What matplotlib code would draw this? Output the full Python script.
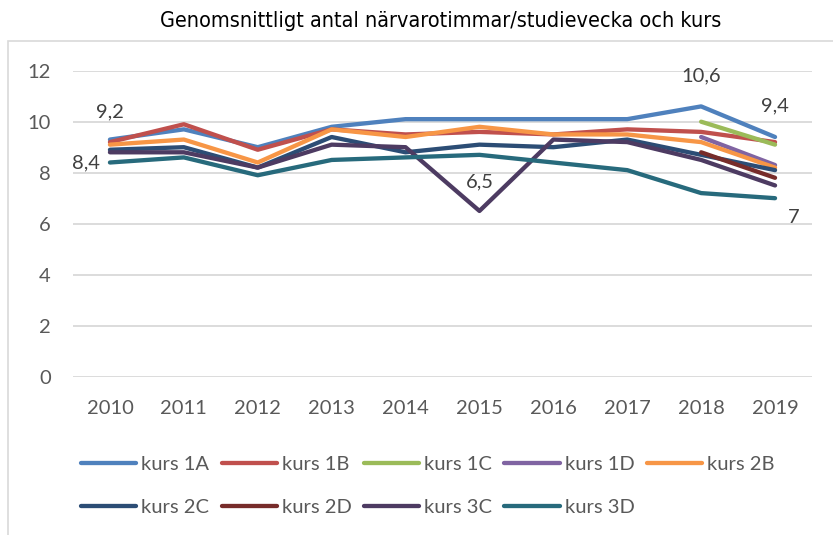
import numpy as np
import matplotlib.pyplot as plt
from matplotlib.patches import Rectangle

# data
years = [2010, 2011, 2012, 2013, 2014, 2015, 2016, 2017, 2018, 2019]
nan = np.nan
kurs_1a = [9.3, 9.7, 9.0, 9.8, 10.1, 10.1, 10.1, 10.1, 10.6, 9.4]
kurs_1b = [9.2, 9.9, 8.9, 9.7, 9.5, 9.6, 9.5, 9.7, 9.6, 9.2]
kurs_1c = [nan, nan, nan, nan, nan, nan, nan, nan, 10.0, 9.1]
kurs_1d = [nan, nan, nan, nan, nan, nan, nan, nan, 9.4, 8.3]
kurs_2b = [9.1, 9.3, 8.4, 9.7, 9.4, 9.8, 9.5, 9.5, 9.2, 8.2]
kurs_2c = [8.9, 9.0, 8.2, 9.4, 8.8, 9.1, 9.0, 9.3, 8.7, 8.1]
kurs_2d = [nan, nan, nan, nan, nan, nan, nan, nan, 8.8, 7.8]
kurs_3c = [8.8, 8.8, 8.2, 9.1, 9.0, 6.5, 9.3, 9.2, 8.5, 7.5]
kurs_3d = [8.4, 8.6, 7.9, 8.5, 8.6, 8.7, 8.4, 8.1, 7.2, 7.0]

names = ["kurs 1A", "kurs 1B", "kurs 1C", "kurs 1D", "kurs 2B",
         "kurs 2C", "kurs 2D", "kurs 3C", "kurs 3D"]
series = [kurs_1a, kurs_1b, kurs_1c, kurs_1d, kurs_2b,
          kurs_2c, kurs_2d, kurs_3c, kurs_3d]
colors = ["#4F81BD", "#C0504D", "#9BBB59", "#8064A2", "#F79646",
          "#2C4D75", "#772C2A", "#4D3B62", "#276A7C"]

# (series index, year index, text, offset in pixels)
labels = [(1, 0, "9,2", (0, 30)),
          (8, 0, "8,4", (-24, 0)),
          (7, 5, "6,5", (0, 29)),
          (0, 8, "10,6", (0, 31)),
          (0, 9, "9,4", (0, 31)),
          (8, 9, "7", (19, -19))]

plt.rcParams['font.family'] = ['Lato', 'DejaVu Sans']
txt = "#595959"
fs = 14.5

fig = plt.figure(figsize=(8.33, 5.35), dpi=100)
fig.patches.append(Rectangle((8 / 833, -0.1), 1.2, 1.1 - 41 / 535,
                             transform=fig.transFigure, fill=False,
                             edgecolor="#D9D9D9", linewidth=1.2))
fig.text(441 / 833, 1 - 21 / 535, "Genomsnittligt antal närvarotimmar/studievecka och kurs",
         ha="center", va="center", fontsize=15.5, color="#000000",
         family=['DejaVu Sans'], fontstretch='condensed')

ax = fig.add_axes([73 / 833, 1 - 376.7 / 535, 739 / 833, 306 / 535])
x = np.arange(len(years))
handles = []
for vals, name, c in zip(series, names, colors):
    h, = ax.plot(x, vals, color=c, lw=3.1, solid_capstyle="round",
                 solid_joinstyle="round", label=name)
    handles.append(h)

for si, yi, t, off in labels:
    ax.annotate(t, (x[yi], series[si][yi]), xytext=off, textcoords="offset pixels",
                ha="center", va="center", fontsize=fs, color="#404040")

ax.set_xlim(-0.5, len(years) - 0.5)
ax.set_ylim(0, 12)
ax.set_yticks(range(0, 13, 2))
ax.set_xticks(x)
ax.set_xticklabels([str(y) for y in years])
ax.yaxis.grid(True, color="#D9D9D9", lw=1.3)
ax.set_axisbelow(True)
for s in ax.spines.values():
    s.set_visible(False)
ax.tick_params(axis="both", length=0, labelsize=fs, labelcolor=txt)
ax.tick_params(axis="x", pad=17)
ax.tick_params(axis="y", pad=16)

# legend: two rows, filled column by column
order = [0, 5, 1, 6, 2, 7, 3, 8, 4]
leg = fig.legend([handles[i] for i in order], [names[i] for i in order],
                 ncol=5, loc="upper left", bbox_to_anchor=(71 / 833, 1 - 446 / 535),
                 frameon=False, fontsize=fs, handlelength=2.75, handletextpad=0.25,
                 columnspacing=0.6, labelspacing=1.27, borderpad=0)
for t in leg.get_texts():
    t.set_color(txt)

fig.savefig("out.png", dpi=100)
